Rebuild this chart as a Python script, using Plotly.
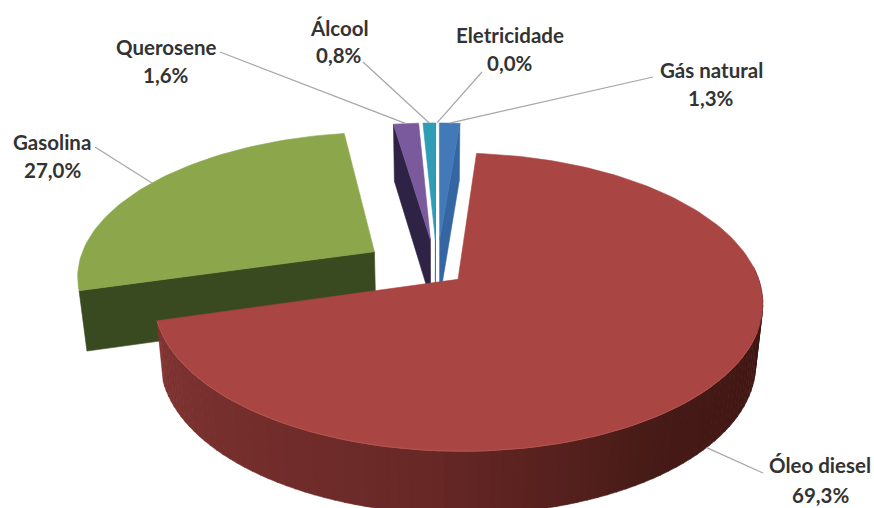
import math
import plotly.graph_objects as go

categories = ["Gás natural", "Óleo diesel", "Gasolina", "Querosene", "Álcool", "Eletricidade"]
values = [1.3, 69.3, 27.0, 1.6, 0.8, 0.0]
value_labels = ["1,3%", "69,3%", "27,0%", "1,6%", "0,8%", "0,0%"]
explode_px = [68, 27, 76, 68, 68, 68]
top_colors = ["#4279B8", "#A94542", "#8CA74B", "#7A5A9C", "#2F9DB6", "#2F9DB6"]
wall_colors = ["#3566A2", "#4A1714", "#3A4A20", "#2E2345", "#14586A", "#14586A"]
wall_side = ["end", None, "start", "start", "end", None]
label_xy = [(711, 70), (820, 465), (52, 142), (166, 47), (339, 28), (510, 35)]
label_gap = [28, 30, 28, 28, 27, 28]
elbow_xy = [(653, 77), (763, 473), (95, 147), (220, 52), (363, 62), (482, 72)]

START_ANGLE = 0.0
CX, CY, R, PERSP, TILT, H, SHRINK = 437.0, 271.0, 298.0, 0.152, 0.48, 60.0, 0.022


def project(X, Y):
    w = 1 + PERSP * Y / R
    return CX + X / w, CY - TILT * Y / w


def project_low(X, Y):
    w = 1 + PERSP * Y / R
    x, y = project(X, Y)
    return CX + (x - CX) * (1 - SHRINK), y + H / w ** 0.3


def in_plane(theta_deg, radius, off):
    mid, d = off
    m = math.radians(mid)
    t = math.radians(theta_deg)
    return d * math.sin(m) + radius * math.sin(t), d * math.cos(m) + radius * math.cos(t)


def poly(fig, pts, color):
    fig.add_trace(go.Scatter(
        x=[p[0] for p in pts] + [pts[0][0]], y=[p[1] for p in pts] + [pts[0][1]],
        mode="lines", fill="toself", fillcolor=color,
        line=dict(color=color, width=0.6), hoverinfo="skip", showlegend=False))


def mix(a, b, f):
    return "rgb(%d,%d,%d)" % tuple(round(a[i] + (b[i] - a[i]) * f) for i in range(3))


fig = go.Figure()
start = START_ANGLE
spans = {}
for i, v in enumerate(values):
    spans[i] = (start, start + v * 3.6)
    start += v * 3.6


def draw_slice(i):
    a0, a1 = spans[i]
    if a1 - a0 <= 0:
        return
    mid = (a0 + a1) / 2
    off = (mid, explode_px[i])
    apex = in_plane(0, 0, off)
    n = max(4, int((a1 - a0) / 1.5))
    arc = [in_plane(a0 + (a1 - a0) * k / n, R, off) for k in range(n + 1)]
    side = wall_side[i]
    if side:
        rim = arc[0] if side == "start" else arc[-1]
        poly(fig, [project(*rim), project_low(*rim), project_low(*apex), project(*apex)], wall_colors[i])
    if i == 1:
        lo = 85.0
        m = 90
        stops = [(0.0, (62, 22, 18)), (0.35, (70, 26, 22)), (0.6, (104, 40, 38)), (1.0, (128, 52, 50))]
        for k in range(m):
            t0 = lo + (a1 - lo) * k / m
            t1 = lo + (a1 - lo) * (k + 1) / m
            p0, p1 = in_plane(t0, R, off), in_plane(t1 + 0.15, R, off)
            f = k / (m - 1)
            for s in range(len(stops) - 1):
                if stops[s][0] <= f <= stops[s + 1][0]:
                    c = mix(stops[s][1], stops[s + 1][1], (f - stops[s][0]) / (stops[s + 1][0] - stops[s][0]))
                    break
            poly(fig, [project(*p0), project(*p1), project_low(*p1), project_low(*p0)], c)
    poly(fig, [project(*apex)] + [project(*p) for p in arc], top_colors[i])
    if i == 1:
        lip = [project(*in_plane(t, R, off)) for t in range(110, int(a1) + 1, 2)]
        fig.add_trace(go.Scatter(x=[p[0] for p in lip], y=[p[1] for p in lip], mode="lines",
                                 line=dict(color="#B55450", width=1.0),
                                 hoverinfo="skip", showlegend=False))


for i in [2, 3, 4, 0, 1]:
    draw_slice(i)

annotations = []
for i, cat in enumerate(categories):
    a0, a1 = spans[i]
    mid = (a0 + a1) / 2
    off = (mid, explode_px[i])
    pt = in_plane(mid if i != 1 else 131.0, R, off)
    tx, ty = project_low(*pt) if i == 1 else project(*pt)
    ex, ey = elbow_xy[i]
    fig.add_trace(go.Scatter(x=[ex, tx], y=[ey, ty], mode="lines",
                             line=dict(color="#A6A6A6", width=1.2),
                             hoverinfo="skip", showlegend=False))
    lx, ly = label_xy[i]
    for text, yy in ((cat, ly), (value_labels[i], ly + label_gap[i])):
        annotations.append(dict(x=lx, y=yy, text="<b>%s</b>" % text, showarrow=False,
                                xanchor="center", yanchor="middle",
                                font=dict(family="Lato", size=20.5, color="#333333")))

fig.update_layout(
    width=874, height=508, margin=dict(l=0, r=0, t=0, b=0),
    paper_bgcolor="white", plot_bgcolor="white", showlegend=False,
    xaxis=dict(range=[0, 874], visible=False, fixedrange=True),
    yaxis=dict(range=[508, 0], visible=False, fixedrange=True),
    annotations=annotations)
fig.write_html("out.html", config=dict(displayModeBar=False),
               post_script="document.body.style.margin='0';document.body.style.overflow='hidden';")
